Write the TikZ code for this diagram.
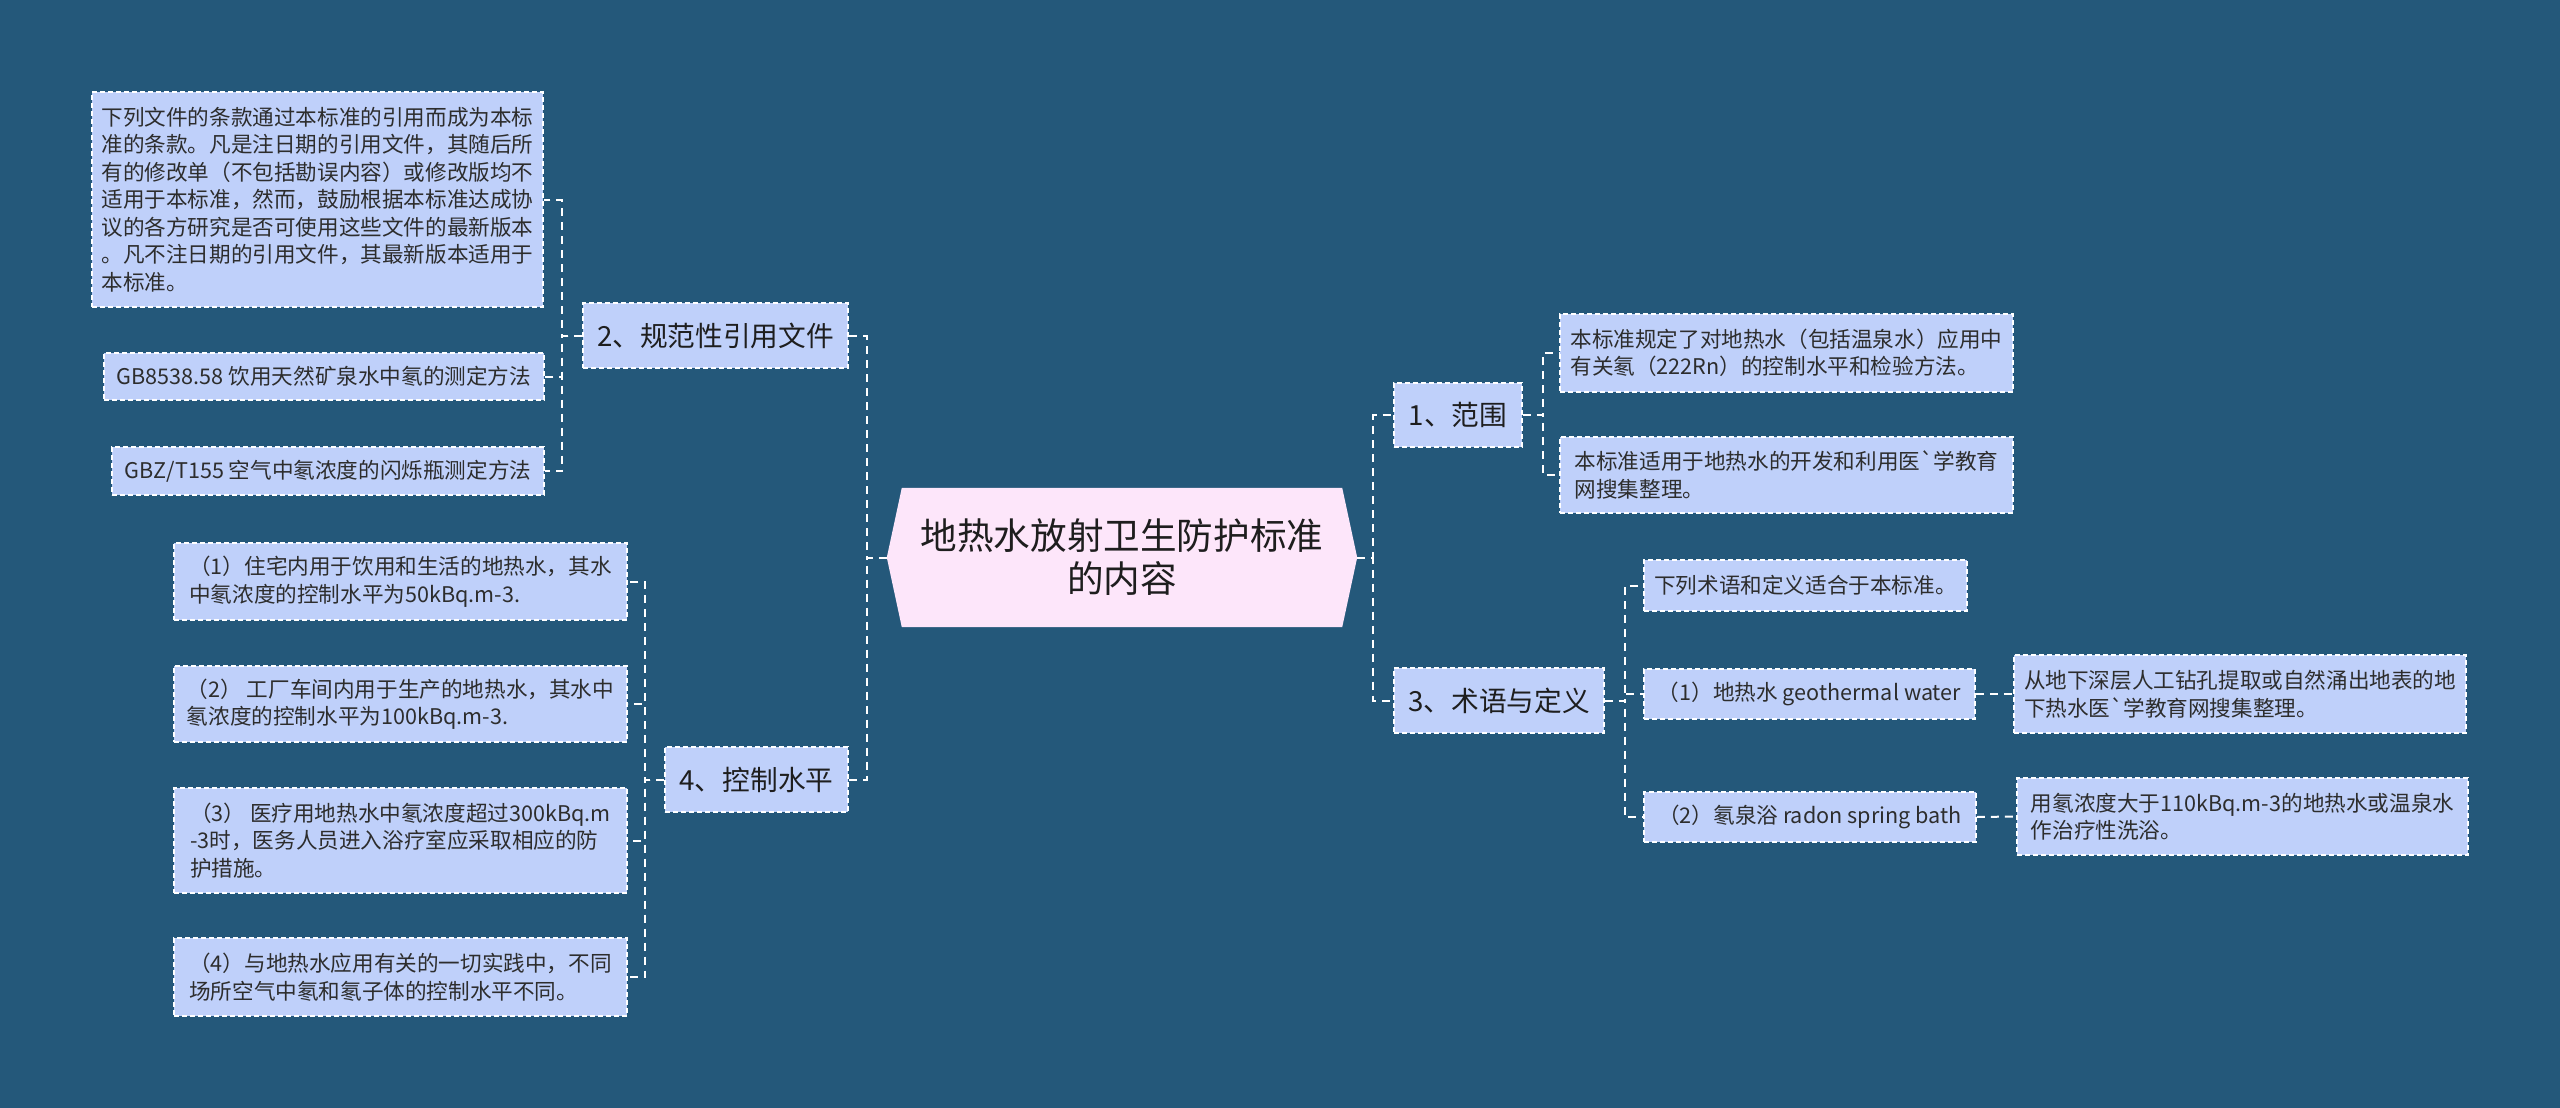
\documentclass[tikz,border=0pt]{standalone}
\usepackage{fontspec}
\setmainfont{Noto Sans CJK SC}
\usetikzlibrary{backgrounds}
\definecolor{bg}{RGB}{36,88,122}
\definecolor{boxfill}{RGB}{191,208,250}
\definecolor{hexfill}{RGB}{253,230,250}
\definecolor{txt}{RGB}{45,45,45}
\definecolor{ttl}{RGB}{30,30,30}
\begin{document}
\begin{tikzpicture}[x=1pt,y=-1pt,
  box/.style={draw=white, line width=1.5pt, dash pattern=on 5pt off 3pt, fill=boxfill, text=txt, inner sep=0pt, align=left},
  leaf/.style={box, font=\fontsize{21.6}{27.5}\selectfont},
  topic/.style={box, text=ttl, font=\fontsize{27.7}{33}\selectfont},
  conn/.style={draw=white, line width=2pt, dash pattern=on 8pt off 6pt},
  sz/.style 2 args={minimum width=#1pt, minimum height=#2pt}]
\useasboundingbox (0,0) rectangle (2560,1108);
\begin{scope}[on background layer]
\fill[bg] (0,0) rectangle (2560,1108);
\end{scope}

% centre
\node[sz={470}{139}, inner sep=0pt, align=center, text=ttl, font=\fontsize{36.6}{43}\selectfont] (C) at (1122,557.5) {地热水放射卫生防护标准\\的内容};
\begin{scope}[on background layer]
\fill[hexfill] (C.west) -- ([xshift=15pt]C.north west) -- ([xshift=-15pt]C.north east) -- (C.east) -- ([xshift=-15pt]C.south east) -- ([xshift=15pt]C.south west) -- cycle;
\end{scope}

% left: 2
\node[topic, sz={265}{65}] (L2) at (715.5,335.5) {2、规范性引用文件};
\node[leaf, sz={451}{215}] (L2a) at (317.5,199.5) {下列文件的条款通过本标准的引用而成为本标\\准的条款。凡是注日期的引用文件，其随后所\\有的修改单（不包括勘误内容）或修改版均不\\适用于本标准，然而，鼓励根据本标准达成协\\议的各方研究是否可使用这些文件的最新版本\\。凡不注日期的引用文件，其最新版本适用于\\本标准。};
\node[leaf, sz={440}{47}] (L2b) at (324,376.5) {GB8538.58 饮用天然矿泉水中氡的测定方法};
\node[leaf, sz={432}{48}] (L2c) at (328,471) {GBZ/T155 空气中氡浓度的闪烁瓶测定方法};

% left: 4
\node[topic, sz={183}{65}] (L4) at (756.5,779.5) {4、控制水平};
\node[leaf, sz={453}{77}] (L4a) at (400.5,581.5) {（1）住宅内用于饮用和生活的地热水，其水\\中氡浓度的控制水平为50kBq.m-3.};
\node[leaf, sz={453}{76}] (L4b) at (400.5,704) {（2） 工厂车间内用于生产的地热水，其水中\\氡浓度的控制水平为100kBq.m-3.};
\node[leaf, sz={453}{105}] (L4c) at (400.5,840.5) {（3） 医疗用地热水中氡浓度超过300kBq.m\\-3时，医务人员进入浴疗室应采取相应的防\\护措施。};
\node[leaf, sz={453}{78}] (L4d) at (400.5,977) {（4）与地热水应用有关的一切实践中，不同\\场所空气中氡和氡子体的控制水平不同。};

% right: 1
\node[topic, sz={128}{64}] (R1) at (1458,415) {1、范围};
\node[leaf, sz={453}{78}] (R1a) at (1786.5,353) {本标准规定了对地热水（包括温泉水）应用中\\有关氡（222Rn）的控制水平和检验方法。};
\node[leaf, sz={453}{76}] (R1b) at (1786.5,475) {本标准适用于地热水的开发和利用医\textasciigrave 学教育\\网搜集整理。};

% right: 3
\node[topic, sz={210}{65}] (R3) at (1499,700.5) {3、术语与定义};
\node[leaf, sz={323}{51}] (R3a) at (1805.5,585.5) {下列术语和定义适合于本标准。};
\node[leaf, sz={331}{50}] (R3b) at (1809.5,694) {（1）地热水 geothermal water};
\node[leaf, sz={332}{50}] (R3c) at (1810,817) {（2）氡泉浴 radon spring bath};
\node[leaf, sz={452}{78}] (R3b1) at (2240,694) {从地下深层人工钻孔提取或自然涌出地表的地\\下热水医\textasciigrave 学教育网搜集整理。};
\node[leaf, sz={451}{77}] (R3c1) at (2242.5,816.5) {用氡浓度大于110kBq.m-3的地热水或温泉水\\作治疗性洗浴。};

% connectors
\draw[conn] (C.west) -- ++(-20,0) |- (L2.east);
\draw[conn] (C.west) -- ++(-20,0) |- (L4.east);
\draw[conn] (C.east) -- ++(16,0) |- (R1.west);
\draw[conn] (C.east) -- ++(16,0) |- (R3.west);
\foreach \t in {L2a,L2b,L2c} \draw[conn] (L2.west) -- ++(-20,0) |- (\t.east);
\foreach \t in {L4a,L4b,L4c,L4d} \draw[conn] (L4.west) -- ++(-19,0) |- (\t.east);
\foreach \t in {R1a,R1b} \draw[conn] (R1.east) -- ++(20,0) |- (\t.west);
\foreach \t in {R3a,R3b,R3c} \draw[conn] (R3.east) -- ++(20,0) |- (\t.west);
\draw[conn] (R3b.east) -- (R3b1.west);
\draw[conn] (R3c.east) -- (R3c1.west);
\end{tikzpicture}
\end{document}
